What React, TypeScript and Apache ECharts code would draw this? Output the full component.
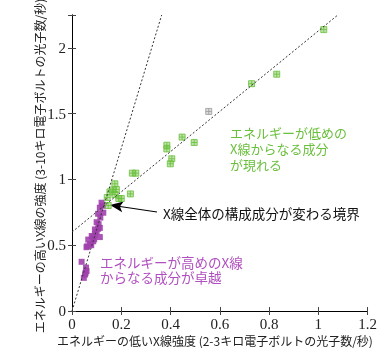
import React, { useEffect, useRef } from "react";
import * as echarts from "echarts";

const xTicks = [0, 0.2, 0.4, 0.6, 0.8, 1, 1.2];
const yTicks = [0, 0.5, 1, 1.5, 2];

// Soft (green) component points: [low-energy rate, high-energy rate]
const greenPoints: number[][] = [
  [1.022, 2.139], [0.831, 1.8], [0.729, 1.728], [0.496, 1.281], [0.447, 1.322],
  [0.385, 1.26], [0.385, 1.232], [0.405, 1.157], [0.399, 1.119], [0.259, 1.048],
  [0.245, 1.048], [0.237, 0.89], [0.174, 0.967], [0.154, 0.905], [0.18, 0.924],
  [0.174, 0.886], [0.143, 0.863], [0.19, 0.855], [0.2, 0.855], [0.147, 0.802],
  [0.165, 0.92],
];
const grayPoints: number[][] = [[0.555, 1.517]];
// Hard (purple) component points
const purplePoints: number[][] = [
  [0.12, 0.823], [0.125, 0.8], [0.113, 0.785], [0.127, 0.747], [0.106, 0.739],
  [0.115, 0.71], [0.1, 0.675], [0.108, 0.66], [0.113, 0.632], [0.106, 0.625],
  [0.093, 0.62], [0.1, 0.6], [0.093, 0.582], [0.086, 0.561], [0.113, 0.562],
  [0.08, 0.57], [0.09, 0.545], [0.066, 0.543], [0.086, 0.53], [0.073, 0.508],
  [0.062, 0.492], [0.059, 0.485], [0.078, 0.5], [0.039, 0.374], [0.057, 0.33],
  [0.059, 0.304], [0.053, 0.277], [0.048, 0.252], [0.055, 0.29],
];
const steepLine: number[][] = [[0, 0], [0.364, 2.25]];
const shallowLine: number[][] = [[0, 0.6], [1.079, 2.25]];

const greenLines = ["エネルギーが低めの", "X線からなる成分", "が現れる"];
const purpleLines = ["エネルギーが高めのX線", "からなる成分が卓越"];

const GREEN = "#6abf3c";
const PURPLE = "#a040ad";
const JP = '"Noto Sans CJK JP", sans-serif';

export default function App() {
  const ref = useRef<HTMLDivElement>(null);
  useEffect(() => {
    if (!ref.current) return;
    const chart = echarts.init(ref.current, null, { renderer: "svg" });
    const tickLabel = {
      fontFamily: '"Liberation Serif", serif',
      fontSize: 15,
      color: "#222",
    };
    const baseAxis = {
      axisLine: { show: true, lineStyle: { color: "#000", width: 1 } },
      axisTick: { show: true, inside: true, length: 4, lineStyle: { color: "#444" } },
      splitLine: { show: false },
    };
    const sqSymbol = "path://M0,0H8V8H0Z M4,0V8 M0,4H8";
    chart.setOption({
      animation: false,
      grid: { left: 72, top: 15, right: 11, bottom: 37 },
      xAxis: [
        {
          ...baseAxis,
          type: "value", min: 0, max: 1.2, interval: 0.2, position: "bottom",
          axisLabel: { ...tickLabel, margin: 5, formatter: (v: number) => (xTicks.includes(+v.toFixed(2)) ? String(+v.toFixed(2)) : "") },
        },
        {
          ...baseAxis,
          type: "value", min: 0, max: 1.2, interval: 0.2, position: "top",
          axisLabel: { show: false },
        },
      ],
      yAxis: [
        {
          ...baseAxis,
          type: "value", min: 0, max: 2.25, interval: 0.5, position: "left",
          axisLabel: { ...tickLabel, margin: 6, formatter: (v: number) => (yTicks.includes(+v.toFixed(2)) ? String(+v.toFixed(2)) : "") },
        },
        {
          ...baseAxis,
          type: "value", min: 0, max: 2.25, interval: 0.5, position: "right",
          axisLabel: { show: false },
        },
      ],
      series: [
        {
          type: "line", data: steepLine, symbol: "none", silent: true,
          lineStyle: { color: "#333", width: 1, type: [2, 2] },
        },
        {
          type: "line", data: shallowLine, symbol: "none", silent: true,
          lineStyle: { color: "#333", width: 1, type: [2, 2] },
        },
        {
          type: "scatter", data: purplePoints, symbol: "rect", symbolSize: 6,
          itemStyle: { color: PURPLE, opacity: 0.9 },
        },
        {
          type: "scatter", data: greenPoints, symbol: sqSymbol, symbolSize: 6,
          itemStyle: { color: "rgba(106,191,60,0.55)", borderColor: GREEN, borderWidth: 1 },
        },
        {
          type: "scatter", data: grayPoints, symbol: sqSymbol, symbolSize: 6,
          itemStyle: { color: "rgba(150,150,150,0.4)", borderColor: "#999", borderWidth: 1 },
        },
      ],
      graphic: [
        {
          type: "text", x: 215, y: 340,
          style: { text: "エネルギーの低いX線強度 (2-3キロ電子ボルトの光子数/秒)", font: `12px ${JP}`, fill: "#222", textAlign: "center", textVerticalAlign: "middle" },
        },
        {
          type: "text", x: 39, y: 166, rotation: Math.PI / 2,
          style: { text: "エネルギーの高いX線の強度 (3-10キロ電子ボルトの光子数/秒)", font: `12px ${JP}`, fill: "#222", textAlign: "center", textVerticalAlign: "middle" },
        },
        ...greenLines.map((t, i) => ({
          type: "text", x: 230, y: 132 + i * 16,
          style: { text: t, font: `13px ${JP}`, fill: GREEN, textVerticalAlign: "middle" },
        })),
        ...purpleLines.map((t, i) => ({
          type: "text", x: 100, y: 262 + i * 15,
          style: { text: t, font: `13.5px ${JP}`, fill: "#b04fbf", textVerticalAlign: "middle" },
        })),
        {
          type: "text", x: 163, y: 213,
          style: { text: "X線全体の構成成分が変わる境界", font: `13.5px ${JP}`, fill: "#111", textVerticalAlign: "middle" },
        },
        {
          type: "line",
          shape: { x1: 157, y1: 212, x2: 120, y2: 206.5 },
          style: { stroke: "#000", lineWidth: 1.2 },
        },
        {
          type: "polygon",
          shape: { points: [[110, 205], [123.6, 201.5], [119.9, 206.5], [122.2, 212.3]] },
          style: { fill: "#000" },
        },
      ],
    });
    return () => chart.dispose();
  }, []);
  return <div ref={ref} style={{ position: "fixed", left: 0, top: 0, width: 380, height: 348 }} />;
}
